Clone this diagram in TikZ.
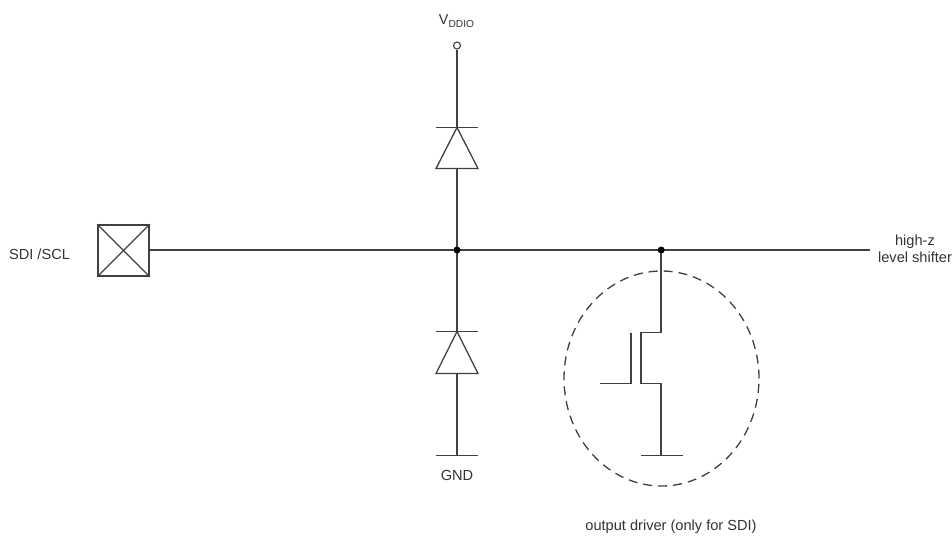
\documentclass[tikz,border=0pt]{standalone}
\usepackage{fontspec}
\usetikzlibrary{shapes.geometric,backgrounds}
\setmainfont{Liberation Sans}
\definecolor{ink}{HTML}{404040}
\definecolor{txt}{HTML}{333333}
\tikzset{
  wire/.style={draw=ink,line width=1.5pt},
  thin wire/.style={draw=ink,line width=1.3pt},
  dot/.style={circle,fill=black,inner sep=0pt,minimum size=7pt},
  lbl/.style={text=txt,font=\fontsize{14.6}{17}\selectfont,align=center,inner sep=0pt},
}
\begin{document}
\begin{tikzpicture}[x=1pt,y=-1pt]
\useasboundingbox (0,0) rectangle (952,536);
% nodes
\node[draw=ink,line width=1.6pt,minimum size=51pt,inner sep=0pt] (pad) at (123.5,250.5) {};
\node[lbl] (sdi) at (39.5,254) {SDI /SCL};
\node[lbl,font=\fontsize{14.4}{16}\selectfont] (vlabel) at (456.5,21) {V\raisebox{-2.8pt}{\fontsize{10.2}{11}\selectfont DDIO}};
\node[circle,draw=ink,line width=1.1pt,inner sep=0pt,minimum size=7pt] (vdd) at (457,45.5) {};
\node[dot] (j1) at (457,250) {};
\node[dot] (j2) at (661.2,250) {};
\coordinate (end) at (870,250);
\node[lbl] (hz) at (915,249) {high-z\\level shifter};
\node[lbl] (gnd) at (457,475) {GND};
\node[lbl] (out) at (671,527) {output driver (only for SDI)};
\node[draw=ink,dash pattern=on 9pt off 6pt,line width=1.3pt,ellipse,minimum width=195pt,minimum height=215pt,inner sep=0pt] (drv) at (661.5,378.5) {};
% pad cross
\draw[thin wire] (pad.north west) -- (pad.south east);
\draw[thin wire] (pad.south west) -- (pad.north east);
\begin{scope}[on background layer]
% main wire
\draw[wire] (pad.east |- j1) -- (j1.center) -- (j2.center) -- (end);
% upper diode
\coordinate (d1c) at (457,127.5);
\coordinate (d1b) at (457,168.5);
\draw[wire] (vdd) -- (d1c);
\draw[thin wire] (436,127.5) -- (478,127.5);
\draw[thin wire,line join=miter] (d1c) -- (478,168.5) -- (436,168.5) -- cycle;
\draw[wire] (d1b) -- (j1.center);
% lower diode
\coordinate (d2c) at (457,331.5);
\coordinate (d2b) at (457,373.5);
\coordinate (g1) at (457,455.5);
\draw[wire] (j1.center) -- (d2c);
\draw[thin wire] (436,331.5) -- (478,331.5);
\draw[thin wire,line join=miter] (d2c) -- (478,373.5) -- (436,373.5) -- cycle;
\draw[wire] (d2b) -- (g1);
\draw[thin wire] (436,455.5) -- (478,455.5);
% mosfet
\coordinate (g2) at (661.2,455.5);
\draw[wire] (j2.center) -- (661.2,332.5) -- (641,332.5) -- (641,383.5) -- (661.2,383.5) -- (g2);
\draw[thin wire] (641,455.5) -- (683,455.5);
\draw[thin wire] (631,332.5) -- (631,383.5) -- (600,383.5);
\end{scope}
\end{tikzpicture}
\end{document}
